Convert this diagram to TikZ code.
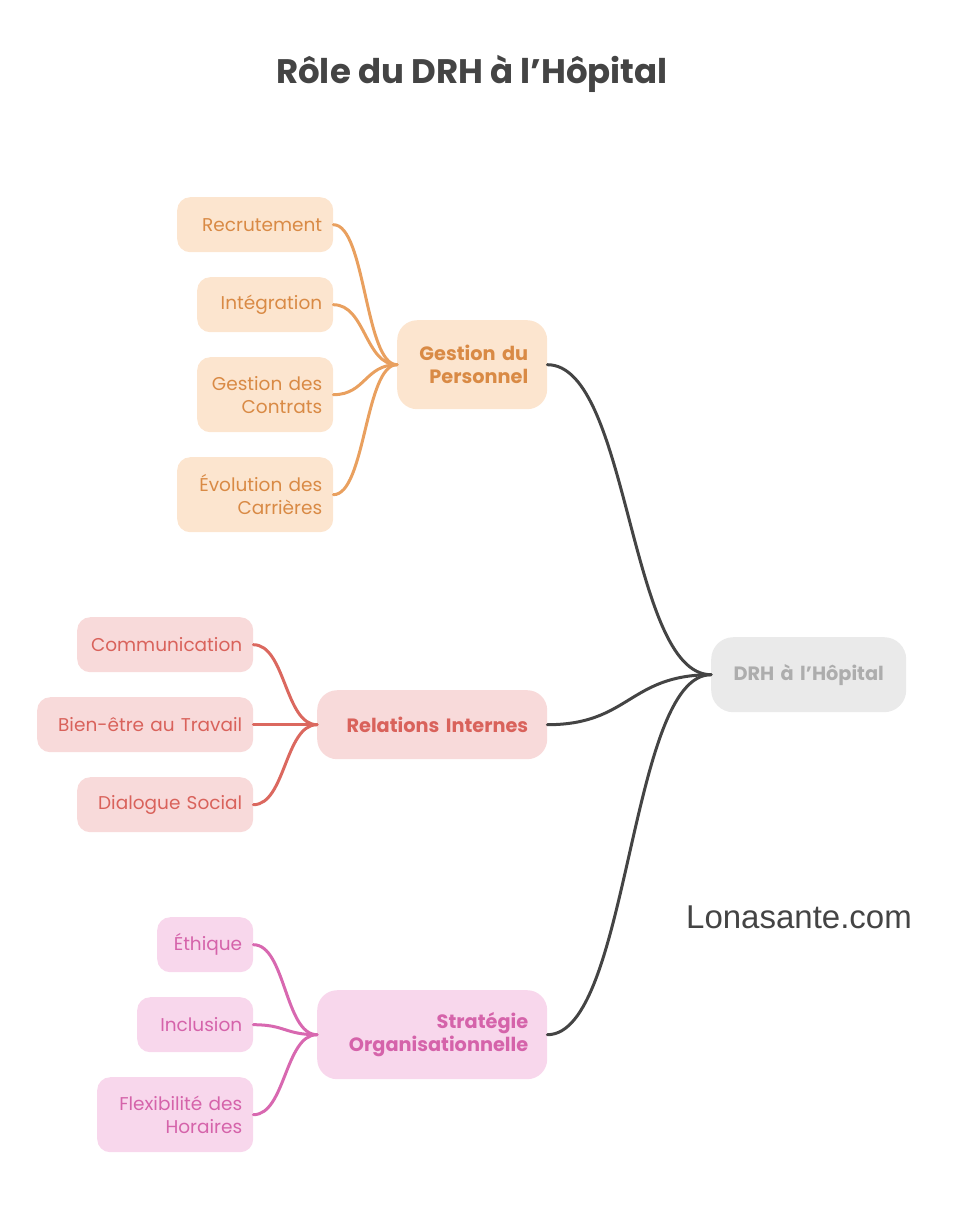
\documentclass[tikz,border=0pt]{standalone}
\usepackage{fontspec}
\setmainfont{Poppins}
\newfontfamily\webfont{Liberation Sans}
\newcommand{\apos}{\char"0027\relax}
\definecolor{oFill}{HTML}{FCE5CF}
\definecolor{oText}{HTML}{D98A45}
\definecolor{oLine}{HTML}{E9A05F}
\definecolor{rFill}{HTML}{F8DADA}
\definecolor{rText}{HTML}{D9625B}
\definecolor{rLine}{HTML}{DB685F}
\definecolor{pFill}{HTML}{F8D7EC}
\definecolor{pText}{HTML}{D563AA}
\definecolor{pLine}{HTML}{D868B0}
\definecolor{gFill}{HTML}{EAEAEA}
\definecolor{gText}{HTML}{ADADAD}
\definecolor{dark}{HTML}{444444}
\tikzset{
  box/.style={rounded corners=13pt, inner xsep=11pt, inner ysep=0pt, align=right, anchor=north west},
  leafbox/.style={box, font=\fontsize{18.5}{23}\selectfont},
  branchbox/.style={box, rounded corners=20pt, inner xsep=19pt, font=\fontsize{19.3}{23}\selectfont\bfseries},
  oleaf/.style={leafbox, fill=oFill, text=oText},
  rleaf/.style={leafbox, fill=rFill, text=rText},
  pleaf/.style={leafbox, fill=pFill, text=pText},
  obranch/.style={branchbox, fill=oFill, text=oText},
  rbranch/.style={branchbox, fill=rFill, text=rText},
  pbranch/.style={branchbox, fill=pFill, text=pText},
  rootbox/.style={box, rounded corners=22pt, align=center, fill=gFill, text=gText, font=\fontsize{19.3}{23}\selectfont\bfseries},
  con/.style={line width=3pt, line cap=round},
}
\begin{document}
\begin{tikzpicture}[x=1pt,y=-1pt]
\useasboundingbox (0,0) rectangle (977,1232);
\node[text=dark, font=\fontsize{34}{40}\selectfont\bfseries] (title) at (472,74) {Rôle du DRH à l\apos Hôpital};

% root
\node[rootbox, minimum width=195pt, minimum height=75pt, text width=173pt] (root) at (711,637) {DRH à l\apos Hôpital};

% branches
\node[obranch, minimum width=150pt, minimum height=89pt, text width=112pt] (gp) at (397,320) {Gestion du\\Personnel};
\node[rbranch, minimum width=230pt, minimum height=69pt, text width=192pt] (ri) at (317,690) {Relations Internes};
\node[pbranch, minimum width=230pt, minimum height=89pt, text width=192pt] (so) at (317,990) {Stratégie\\Organisationnelle};

% orange leaves
\node[oleaf, minimum width=156pt, minimum height=55pt, text width=134pt] (l1) at (177,197) {Recrutement};
\node[oleaf, minimum width=136pt, minimum height=55pt, text width=114pt] (l2) at (197,277) {Intégration};
\node[oleaf, minimum width=136pt, minimum height=75pt, text width=114pt] (l3) at (197,357) {Gestion des\\Contrats};
\node[oleaf, minimum width=156pt, minimum height=75pt, text width=134pt] (l4) at (177,457) {Évolution des\\Carrières};

% red leaves
\node[rleaf, minimum width=176pt, minimum height=55pt, text width=154pt] (r1) at (77,617) {Communication};
\node[rleaf, minimum width=216pt, minimum height=55pt, text width=194pt] (r2) at (37,697) {Bien-être au Travail};
\node[rleaf, minimum width=176pt, minimum height=55pt, text width=154pt] (r3) at (77,777) {Dialogue Social};

% pink leaves
\node[pleaf, minimum width=96pt, minimum height=55pt, text width=74pt] (p1) at (157,917) {Éthique};
\node[pleaf, minimum width=116pt, minimum height=55pt, text width=94pt] (p2) at (137,997) {Inclusion};
\node[pleaf, minimum width=156pt, minimum height=75pt, text width=134pt] (p3) at (97,1077) {Flexibilité des\\Horaires};

% root connectors
\draw[con, dark] (gp.east) .. controls +(82,0) and +(-82,0) .. (root.west);
\draw[con, dark] (ri.east) .. controls +(82,0) and +(-82,0) .. (root.west);
\draw[con, dark] (so.east) .. controls +(82,0) and +(-82,0) .. (root.west);

% leaf connectors
\foreach \n in {l1,l2,l3,l4}
  \draw[con, oLine] (\n.east) .. controls +(32,0) and +(-32,0) .. (gp.west);
\foreach \n in {r1,r2,r3}
  \draw[con, rLine] (\n.east) .. controls +(32,0) and +(-32,0) .. (ri.west);
\foreach \n in {p1,p2,p3}
  \draw[con, pLine] (\n.east) .. controls +(32,0) and +(-32,0) .. (so.west);

\node[text=dark, font=\webfont\fontsize{33}{38}\selectfont] (web) at (799,917) {Lonasante.com};
\end{tikzpicture}
\end{document}
